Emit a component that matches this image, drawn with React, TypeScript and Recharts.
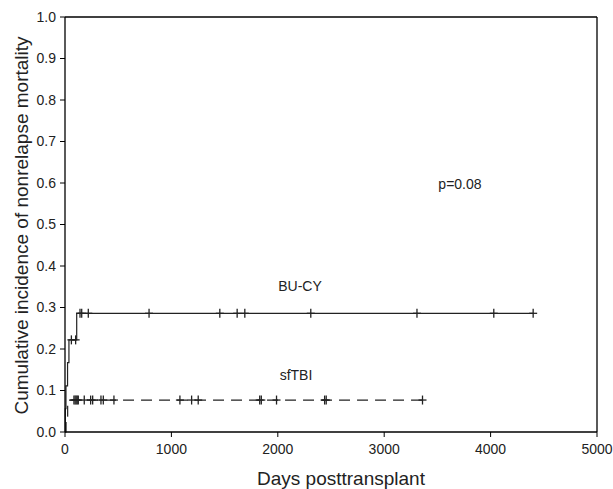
import React from 'react';
import {
  ComposedChart,
  Line,
  Scatter,
  XAxis,
  YAxis,
  ReferenceLine,
  ReferenceDot,
} from 'recharts';

// step curves (day, cumulative incidence)
const buDays = [0, 3, 9, 24, 37, 110, 4400];
const buCum = [0, 0.056, 0.111, 0.167, 0.222, 0.286, 0.286];
const tbiDays = [0, 10, 25, 3360];
const tbiCum = [0, 0.038, 0.077, 0.077];

// censored patients
const buCensor222 = [60, 100];
const buCensor286 = [141, 157, 219, 790, 1455, 1618, 1690, 2310, 3308, 4030, 4400];
const tbiCensor = [84, 95, 105, 115, 125, 181, 241, 260, 338, 360, 460, 1080, 1190, 1252, 1830, 1845, 1988, 2440, 2455, 3360];

const xTicks = [0, 1000, 2000, 3000, 4000, 5000];
const yTicks = [0, 0.1, 0.2, 0.3, 0.4, 0.5, 0.6, 0.7, 0.8, 0.9, 1.0];

const notes = [
  { text: 'p=0.08', x: 3712, y: 0.598 },
  { text: 'BU-CY', x: 2209, y: 0.352 },
  { text: 'sfTBI', x: 2171, y: 0.137 },
];

const buLine = buDays.map((d, i) => ({ x: d, y: buCum[i] }));
const tbiLine = tbiDays.map((d, i) => ({ x: d, y: tbiCum[i] }));
const censorPts = [
  ...buCensor222.map((d) => ({ x: d, y: 0.222 })),
  ...buCensor286.map((d) => ({ x: d, y: 0.286 })),
  ...tbiCensor.map((d) => ({ x: d, y: 0.077 })),
];

const FONT = 'Liberation Sans, Arial, sans-serif';
const INK = '#222';

const Cross = (props: any) => {
  const { cx, cy } = props;
  return (
    <g stroke={INK} strokeWidth={1.3}>
      <line x1={cx} x2={cx} y1={cy - 4.5} y2={cy + 4.5} />
      <line x1={cx - 4} x2={cx + 4} y1={cy} y2={cy} />
    </g>
  );
};

const YTitle = (props: any) => {
  const { viewBox } = props;
  const cy = viewBox.y + viewBox.height / 2 + 1;
  return (
    <text
      x={21}
      y={cy}
      transform={`rotate(-90, 21, ${cy})`}
      textAnchor="middle"
      dominantBaseline="central"
      fontSize={19}
      fontFamily={FONT}
      fill={INK}
    >
      Cumulative incidence of nonrelapse mortality
    </text>
  );
};

const XTitle = (props: any) => {
  const { viewBox } = props;
  const cx = viewBox.x + viewBox.width / 2 + 10;
  return (
    <text
      x={cx}
      y={478}
      textAnchor="middle"
      dominantBaseline="central"
      fontSize={19}
      fontFamily={FONT}
      fill={INK}
    >
      Days posttransplant
    </text>
  );
};

const App = () => {
  return (
    <div style={{ position: 'absolute', left: 0, top: 0, background: '#fff' }}>
      <ComposedChart
        width={613}
        height={489}
        margin={{ top: 17, right: 16, bottom: 0, left: 5 }}
      >
        <XAxis
          type="number"
          dataKey="x"
          domain={[0, 5000]}
          ticks={xTicks}
          height={57}
          tickSize={5}
          tickMargin={7}
          axisLine={{ stroke: '#000', strokeWidth: 1.3 }}
          tickLine={{ stroke: '#000' }}
          tick={{ fill: INK, fontSize: 14, fontFamily: FONT }}
          label={<XTitle />}
        />
        <YAxis
          type="number"
          dataKey="y"
          domain={[0, 1]}
          ticks={yTicks}
          width={60}
          tickSize={5}
          tickMargin={4}
          tickFormatter={(v: number) => v.toFixed(1)}
          axisLine={{ stroke: '#000', strokeWidth: 1.3 }}
          tickLine={{ stroke: '#000' }}
          tick={{ fill: INK, fontSize: 14, fontFamily: FONT }}
          label={<YTitle />}
        />
        <ReferenceLine y={1} stroke="#000" strokeWidth={1.3} />
        <ReferenceLine x={5000} stroke="#000" strokeWidth={1.3} />
        <Line
          data={buLine}
          dataKey="y"
          type="stepAfter"
          stroke={INK}
          strokeWidth={1.2}
          dot={false}
          isAnimationActive={false}
        />
        <Line
          data={tbiLine}
          dataKey="y"
          type="stepAfter"
          stroke={INK}
          strokeWidth={1.2}
          strokeDasharray="11 7"
          dot={false}
          isAnimationActive={false}
        />
        <Scatter data={censorPts} dataKey="y" shape={<Cross />} isAnimationActive={false} />
        {notes.map((n) => (
          <ReferenceDot
            key={n.text}
            x={n.x}
            y={n.y}
            r={0}
            stroke="none"
            label={{ value: n.text, position: 'center', fontSize: 14, fontFamily: FONT, fill: INK }}
          />
        ))}
      </ComposedChart>
    </div>
  );
};

export default App;
